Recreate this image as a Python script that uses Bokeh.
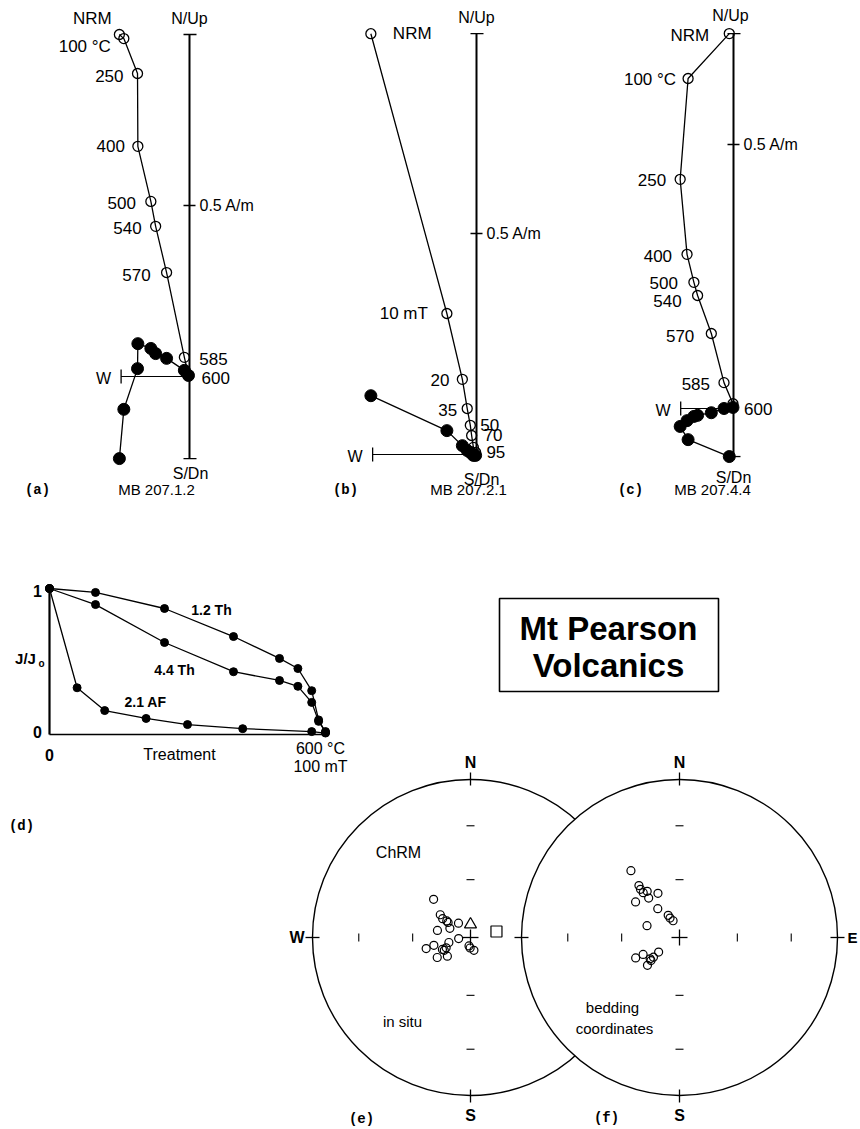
import math
from bokeh.plotting import figure
from bokeh.models import Range1d
from bokeh.core.properties import value
from bokeh.embed import file_html
from bokeh.resources import INLINE

# ---------------- data ----------------
# (a) MB 207.1.2 thermal demagnetisation, components in A/m
a_steps = ["NRM", "100 °C", "250", "400", "500", "540", "570", "585", "600"]
a_E = [-0.205, -0.192, -0.152, -0.151, -0.113, -0.099, -0.067, -0.015, -0.003]
a_N = [-0.240, -0.096, 0.023, 0.096, 0.082, 0.067, 0.053, 0.018, 0.003]
a_U = [1.000, 0.988, 0.886, 0.673, 0.512, 0.439, 0.304, 0.056, 0.003]
a_axis = [1.0, -0.24, -0.2]          # N/Up end, S/Dn end, W end

# (b) MB 207.2.1 AF demagnetisation
b_steps = ["NRM", "10 mT", "20", "35", "50", "70", "95", ""]
b_E = [-0.239, -0.067, -0.032, -0.021, -0.014, -0.011, -0.007, -0.002]
b_N = [0.133, 0.054, 0.020, 0.009, 0.005, 0.002, -0.002, -0.002]
b_U = [0.952, 0.319, 0.170, 0.104, 0.066, 0.043, 0.016, 0.005]
b_axis = [0.952, 0.0, -0.235]

# (c) MB 207.4.4 thermal demagnetisation
c_steps = ["NRM", "100 °C", "250", "400", "500", "540", "570", "585", "600"]
c_E = [-0.008, -0.086, -0.101, -0.088, -0.075, -0.068, -0.042, -0.018, -0.001]
c_N = [-0.091, -0.059, -0.034, -0.023, -0.015, -0.013, -0.008, 0.000, 0.002]
c_U = [0.710, 0.625, 0.434, 0.292, 0.239, 0.214, 0.142, 0.049, 0.009]
c_axis = [0.71, -0.091, -0.1]

unit_tick = 0.5  # A/m

# (d) normalised intensity decay
d_T = [0, 100, 250, 400, 500, 540, 570, 585, 600]          # deg C
d_J12 = [1.0, 0.973, 0.863, 0.671, 0.521, 0.452, 0.30, 0.10, 0.014]
d_J44 = [1.0, 0.89, 0.63, 0.43, 0.37, 0.33, 0.22, 0.09, 0.02]
d_H = [0, 10, 20, 35, 50, 70, 95, 100]                      # mT
d_J21 = [1.0, 0.32, 0.164, 0.11, 0.068, 0.04, 0.02, 0.01]

# (e) ChRM in situ (upper hemisphere, open symbols)
e_dec = [316, 307, 304, 305, 304, 320, 282, 294, 265, 257, 258, 256, 247, 247, 244, 239, 231, 190, 182, 165]
e_inc = [-62.5, -70.5, -72.7, -75.1, -76.1, -80.4, -72.6, -78.4, -83.9, -78.6, -70.7, -66.4,
         -74.3, -76.4, -75.0, -70.0, -74.7, -85.6, -84.6, -83.2]
e_tri = [0, -83.3]     # dec, inc
e_sq = [77, -76.3]
# (f) bedding coordinates
f_dec = [324, 322, 321, 321, 325, 322, 334, 309, 323, 333, 334, 339, 290, 245, 245, 234, 233, 235, 229, 231]
f_inc = [-46.6, -55.7, -57.8, -60.1, -60.8, -64.1, -64.6, -60.7, -71.4, -77.2, -78.9, -80.8,
         -72.2, -65.0, -69.3, -71.3, -73.2, -76.9, -68.1, -71.1]
net_ticks_inc = [30, 60]

# ---------------- canvas ----------------
W, H = 858, 1127
p = figure(width=W, height=H, x_range=Range1d(0, W), y_range=Range1d(H, 0),
           output_backend="svg", toolbar_location=None, min_border=0,
           x_axis_location=None, y_axis_location=None)
p.grid.visible = False
p.outline_line_color = None
p.background_fill_color = "white"

SANS = "Liberation Sans"
MONO = "Liberation Mono"
LS = 17   # label size in the Zijderveld plots


def txt(x, y, s, size=15, align="left", bold=False, font=SANS, baseline="middle"):
    p.text(x=[x], y=[y], text=[s], text_font=value(font), text_font_size=f"{size}px",
           text_align=align, text_baseline=baseline,
           text_font_style="bold" if bold else "normal", text_color="black")


def seg(x0, y0, x1, y1, w=1.2):
    p.segment(x0=[x0], y0=[y0], x1=[x1], y1=[y1], line_color="black", line_width=w)


def zij(E, N, U, axis, steps, ox, oy, s, offs, lab):
    up, dn, wv = axis
    ytop, ybot, xw = oy - s * up, oy - s * dn, ox + s * wv
    # axes
    seg(ox, ytop, ox, ybot, 2)
    seg(xw, oy, ox, oy, 1)
    seg(ox - 6, ytop, ox + 7, ytop, 1.3)
    if dn < 0:
        seg(ox - 6, ybot, ox + 7, ybot, 1.3)
    yt = oy - s * unit_tick
    seg(ox - 6, yt, ox + 6, yt, 1.3)
    seg(xw, oy - 7, xw, oy + 7, 1.3)
    txt(ox + 10, yt, "0.5 A/m", 16)
    txt(ox + lab[0][0], ytop + lab[0][1], "N/Up", 16, "center")
    txt(ox + lab[1][0], ybot + lab[1][1], "S/Dn", 16, "center")
    txt(xw - 10, oy + 2, "W", 16, "right")
    xs = [ox + s * e for e in E]
    yo = [oy - s * u for u in U]
    yc = [oy - s * n for n in N]
    p.line(xs, yo, line_color="black", line_width=1.3)
    p.line(xs, yc, line_color="black", line_width=1.3)
    p.scatter(xs, yc, marker="circle", size=12, fill_color="black", line_color="black")
    p.scatter(xs, yo, marker="circle", size=10, fill_color=None, line_color="black", line_width=1.3)
    for st, x, y, (dx, dy, al) in zip(steps, xs, yo, offs):
        if st:
            txt(x + dx, y + dy, st, LS, al)


R = "right"
L = "left"
C = "center"
zij(a_E, a_N, a_U, a_axis, a_steps, 189, 376, 342,
    [(-27, -16, C), (-13, 8, R), (-14, 3, R), (-13, 0, R), (-15, 2, R), (-14, 2, R),
     (-16, 2, R), (15, 2, L), (13, 3, L)], [(0, -16), (1, 15)])
zij(b_E, b_N, b_U, b_axis, b_steps, 476, 454, 442,
    [(22, 0, L), (-19, 0, R), (-13, 1, R), (-10, 1, R), (10, 0, L), (12, 0, L), (13, 5, L), (0, 0, L)],
    [(0, -16), (5, 25)])
zij(c_E, c_N, c_U, c_axis, c_steps, 733, 408, 528,
    [(-20, 2, R), (-12, 1, R), (-14, 1, R), (-15, 2, R), (-16, 1, R), (-16, 5, R),
     (-17, 2, R), (-14, 1, R), (11, 5, L)], [(-3, -18), (0, 21)])

for lbl, x in [("(a)", 37), ("(b)", 345), ("(c)", 630)]:
    txt(x, 489, lbl, 14, C, True, MONO)
for lbl, x in [("MB 207.1.2", 156), ("MB 207.2.1", 468), ("MB 207.4.4", 712)]:
    txt(x, 489, lbl, 15, C)

# ---------------- (d) ----------------
dx0, dlen, dy0, dh = 49, 276, 734, 146
seg(dx0, dy0 - dh, dx0, dy0, 2.2)
seg(dx0, dy0, dx0 + dlen + 2, dy0, 1.6)


def decay(fr, J):
    xs = [dx0 + f * dlen for f in fr]
    ys = [dy0 - j * dh for j in J]
    p.line(xs, ys, line_color="black", line_width=1.3)
    p.scatter(xs, ys, marker="circle", size=8, fill_color="black", line_color="black")


decay([t / 600 for t in d_T], d_J12)
decay([t / 600 for t in d_T], d_J44)
decay([h / 100 for h in d_H], d_J21)
txt(37, dy0 - dh + 2, "1", 16, C, True)
txt(37, dy0 - 3, "0", 16, C, True)
txt(49, 754, "0", 16, C, True)
txt(25, 658, "J/J", 15, C, True)
txt(38, 663, "o", 10, L, True)
txt(179, 754, "Treatment", 16, C)
txt(320, 748, "600 °C", 16, C)
txt(320, 766, "100 mT", 16, C)
txt(211, 609, "1.2 Th", 14, C, True)
txt(174, 669, "4.4 Th", 14, C, True)
txt(145, 701, "2.1 AF", 14, C, True)
txt(21, 825, "(d)", 14, C, True, MONO)

# ---------------- title box ----------------
p.quad(left=[499], right=[718], top=[598], bottom=[691], fill_color=None,
       line_color="black", line_width=1.6)
txt(608, 628, "Mt Pearson", 33, C, True)
txt(608, 665, "Volcanics", 33, C, True)

# ---------------- stereonets ----------------
RAD = 158


def proj(cx, cy, dec, inc):
    r = [RAD * math.sqrt(2) * math.sin(math.radians(90 - abs(i)) / 2) for i in inc]
    xs = [cx + rr * math.sin(math.radians(d)) for rr, d in zip(r, dec)]
    ys = [cy - rr * math.cos(math.radians(d)) for rr, d in zip(r, dec)]
    return xs, ys


def net(cx, cy, left_lab, right_lab):
    p.circle(x=[cx], y=[cy], radius=RAD, fill_color="white", line_color="black", line_width=1.4)
    tr = [RAD * math.sqrt(2) * math.sin(math.radians(90 - i) / 2) for i in net_ticks_inc]
    for t in tr:
        for sgn in (-1, 1):
            seg(cx + sgn * t, cy - 4, cx + sgn * t, cy + 4, 1.1)
            seg(cx - 4, cy + sgn * t, cx + 4, cy + sgn * t, 1.1)
    seg(cx - 8, cy, cx + 8, cy, 1.3)
    seg(cx, cy - 8, cx, cy + 8, 1.3)
    seg(cx, cy - RAD - 7, cx, cy - RAD + 6, 1.3)
    seg(cx, cy + RAD - 6, cx, cy + RAD + 7, 1.3)
    seg(cx - RAD - 7, cy, cx - RAD + 7, cy, 1.3)
    seg(cx + RAD - 7, cy, cx + RAD + 7, cy, 1.3)
    txt(cx, cy - RAD - 17, "N", 16, C, True)
    txt(cx, cy + RAD + 20, "S", 16, C, True)
    if left_lab:
        txt(cx - RAD - 8, cy, "W", 16, R, True)
    if right_lab:
        txt(cx + RAD + 10, cy, "E", 15, L, True)


ecx, fcx, ncy = 470, 679, 937
net(ecx, ncy, True, False)
xs, ys = proj(ecx, ncy, e_dec, e_inc)
p.scatter(xs, ys, marker="circle", size=8, fill_color=None, line_color="black", line_width=1.2)
tx, ty = proj(ecx, ncy, [e_tri[0]], [e_tri[1]])
p.scatter(tx, ty, marker="triangle", size=12, fill_color=None, line_color="black", line_width=1.2)
sx, sy = proj(ecx, ncy, [e_sq[0]], [e_sq[1]])
p.scatter(sx, sy, marker="square", size=11, fill_color=None, line_color="black", line_width=1.2)
txt(398, 852, "ChRM", 16, C)
txt(402, 1021, "in situ", 15, C)

net(fcx, ncy, False, True)
xs, ys = proj(fcx, ncy, f_dec, f_inc)
p.scatter(xs, ys, marker="circle", size=8, fill_color=None, line_color="black", line_width=1.2)
txt(612, 1007, "bedding", 15, C)
txt(614, 1028, "coordinates", 15, C)
txt(361, 1118, "(e)", 14, C, True, MONO)
txt(606, 1117, "(f)", 14, C, True, MONO)

open("out.html", "w").write(file_html(p, INLINE))
